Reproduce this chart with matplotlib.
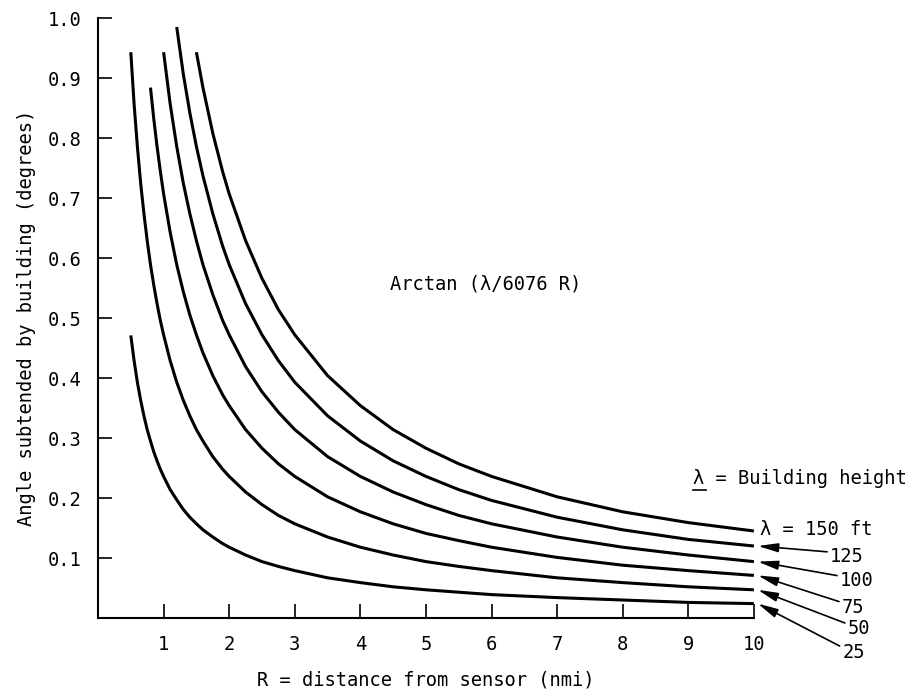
import numpy as np
import matplotlib.pyplot as plt

plt.rcParams['font.family'] = ['DejaVu Sans Mono']

# angle subtended (degrees), one list per building height
r_25 = [0.5, 0.55, 0.6, 0.65, 0.7, 0.75, 0.8, 0.85, 0.9, 0.95, 1.0, 1.1, 1.2, 1.3, 1.4, 1.5,
        1.6, 1.75, 1.9, 2.0, 2.25, 2.5, 2.75, 3, 3.5, 4, 4.5, 5, 5.5, 6, 7, 8, 9, 10]
a_25 = [0.471, 0.429, 0.393, 0.363, 0.337, 0.314, 0.295, 0.277, 0.262, 0.248, 0.236,
        0.214, 0.197, 0.181, 0.168, 0.157, 0.147, 0.135, 0.124, 0.118, 0.105, 0.094,
        0.086, 0.079, 0.067, 0.059, 0.052, 0.047, 0.043, 0.039, 0.034, 0.030, 0.026, 0.024]
r_50 = r_25
a_50 = [0.943, 0.857, 0.786, 0.725, 0.674, 0.629, 0.589, 0.555, 0.524, 0.496, 0.472,
        0.429, 0.393, 0.363, 0.337, 0.314, 0.295, 0.269, 0.248, 0.236, 0.210, 0.189,
        0.171, 0.157, 0.135, 0.118, 0.105, 0.094, 0.086, 0.079, 0.067, 0.059, 0.052, 0.047]
r_75 = [0.8, 0.85, 0.9, 0.95, 1.0, 1.1, 1.2, 1.3, 1.4, 1.5, 1.6, 1.75, 1.9, 2.0, 2.25, 2.5,
        2.75, 3, 3.5, 4, 4.5, 5, 5.5, 6, 7, 8, 9, 10]
a_75 = [0.884, 0.832, 0.786, 0.745, 0.707, 0.643, 0.589, 0.544, 0.505, 0.472, 0.442,
        0.404, 0.372, 0.354, 0.314, 0.283, 0.257, 0.236, 0.202, 0.177, 0.157, 0.141,
        0.129, 0.118, 0.101, 0.088, 0.079, 0.071]
r_100 = [1.0, 1.1, 1.2, 1.3, 1.4, 1.5, 1.6, 1.75, 1.9, 2.0, 2.25, 2.5, 2.75, 3, 3.5, 4,
         4.5, 5, 5.5, 6, 7, 8, 9, 10]
a_100 = [0.943, 0.857, 0.786, 0.725, 0.674, 0.629, 0.589, 0.539, 0.496, 0.472, 0.419,
         0.377, 0.343, 0.314, 0.269, 0.236, 0.210, 0.189, 0.171, 0.157, 0.135, 0.118,
         0.105, 0.094]
r_125 = [1.2, 1.3, 1.4, 1.5, 1.6, 1.75, 1.9, 2.0, 2.25, 2.5, 2.75, 3, 3.5, 4, 4.5, 5, 5.5,
         6, 7, 8, 9, 10]
a_125 = [0.985, 0.907, 0.842, 0.786, 0.737, 0.674, 0.620, 0.589, 0.524, 0.472, 0.429,
         0.393, 0.337, 0.295, 0.262, 0.236, 0.214, 0.196, 0.168, 0.147, 0.131, 0.120]
r_150 = [1.5, 1.6, 1.75, 1.9, 2.0, 2.25, 2.5, 2.75, 3, 3.5, 4, 4.5, 5, 5.5, 6, 7, 8, 9, 10]
a_150 = [0.943, 0.884, 0.808, 0.744, 0.707, 0.629, 0.566, 0.514, 0.472, 0.404, 0.354,
         0.314, 0.283, 0.257, 0.236, 0.202, 0.177, 0.159, 0.145]

heights = ['125', '100', '75', '50', '25']
ends = [0.120, 0.094, 0.071, 0.047, 0.024]

fs = 13.5
fig = plt.figure(figsize=(9.16, 6.98), dpi=100)
ax = fig.add_axes([0.107, 0.1146, 0.716, 0.8596])

for r, a in [(r_25, a_25), (r_50, a_50), (r_75, a_75), (r_100, a_100),
             (r_125, a_125), (r_150, a_150)]:
    ax.plot(r, a, color='black', lw=2.2, solid_capstyle='butt', solid_joinstyle='round')

ax.set_xlim(0, 10)
ax.set_ylim(0, 1.0)
ax.spines['top'].set_visible(False)
ax.spines['right'].set_visible(False)
ax.spines['left'].set_linewidth(1.5)
ax.spines['bottom'].set_linewidth(1.5)
ax.set_xticks(range(1, 11))
ax.set_yticks([0.1, 0.2, 0.3, 0.4, 0.5, 0.6, 0.7, 0.8, 0.9, 1.0])
ax.set_yticklabels(['0.1', '0.2', '0.3', '0.4', '0.5', '0.6', '0.7', '0.8', '0.9', '1.0'])
ax.tick_params(direction='in', length=10, width=1.2, labelsize=fs, pad=12)
ax.tick_params(axis='x', pad=12)

ax.set_xlabel('R = distance from sensor (nmi)', fontsize=fs, labelpad=12)
ax.set_ylabel('Angle subtended by building (degrees)', fontsize=fs, labelpad=8)

ax.text(4.45, 0.557, 'Arctan (\u03bb/6076 R)', fontsize=fs, va='center', ha='left')

# note with underlined lambda
ax.text(9.07, 0.233, '\u03bb = Building height', fontsize=fs, va='center', ha='left',
        clip_on=False)
ax.plot([9.07, 9.27], [0.213, 0.213], color='black', lw=1.2, clip_on=False)

ax.text(10.1, 0.147, '\u03bb = 150 ft', fontsize=fs, va='center', ha='left', clip_on=False)

label_pos = [(11.16, 0.102), (11.31, 0.062), (11.34, 0.018), (11.43, -0.018), (11.35, -0.057)]
for h, yend, (tx, ty) in zip(heights, ends, label_pos):
    ax.annotate(h, xy=(10.06, yend), xytext=(tx, ty), fontsize=fs, va='center', ha='left',
                annotation_clip=False,
                arrowprops=dict(arrowstyle='-|>,head_length=0.9,head_width=0.2',
                                color='black', lw=1.2, shrinkA=0, shrinkB=0,
                                relpos=(0, 0.75)))

fig.savefig('out.png', dpi=100)
